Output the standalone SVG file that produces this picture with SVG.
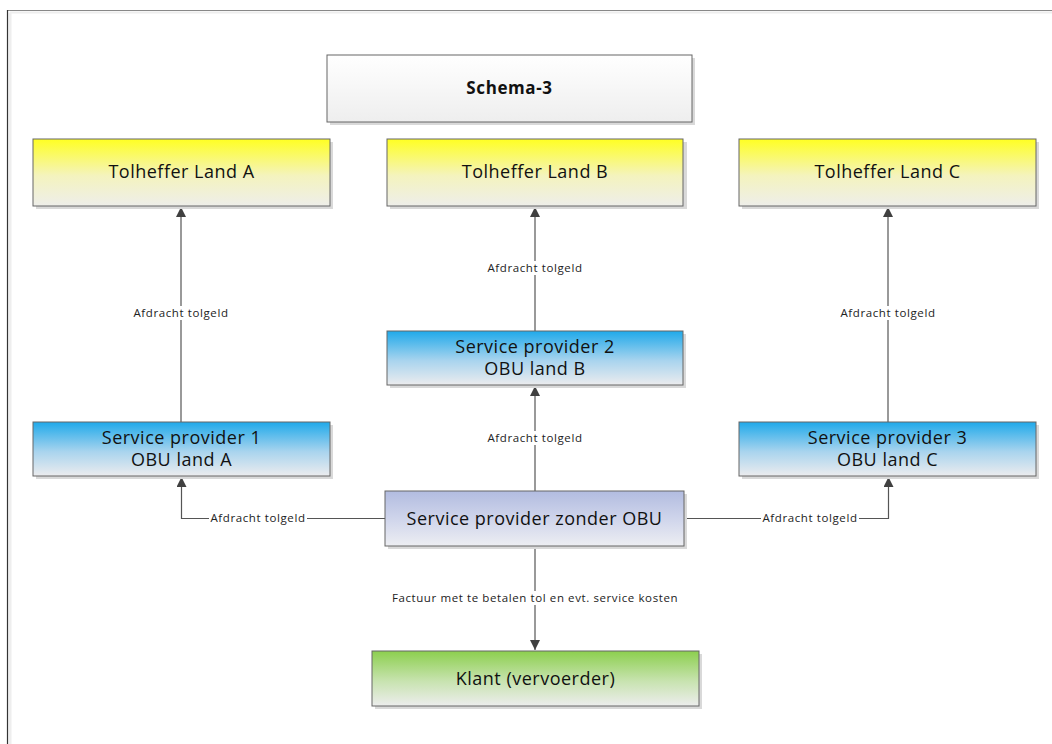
<svg xmlns="http://www.w3.org/2000/svg" width="1052" height="744" viewBox="0 0 1052 744">
<defs>
<linearGradient id="gY" x1="0" y1="0" x2="0" y2="1"><stop offset="0" stop-color="#FFFF22"/><stop offset="0.55" stop-color="#F4F3BE"/><stop offset="1" stop-color="#EEEEEA"/></linearGradient>
<linearGradient id="gB" x1="0" y1="0" x2="0" y2="1"><stop offset="0" stop-color="#1FA9EA"/><stop offset="0.55" stop-color="#A9D4EE"/><stop offset="1" stop-color="#ECECEE"/></linearGradient>
<linearGradient id="gP" x1="0" y1="0" x2="0" y2="1"><stop offset="0" stop-color="#B2BCE0"/><stop offset="0.55" stop-color="#D2D7EC"/><stop offset="1" stop-color="#EDEEF2"/></linearGradient>
<linearGradient id="gG" x1="0" y1="0" x2="0" y2="1"><stop offset="0" stop-color="#8CCF4E"/><stop offset="0.55" stop-color="#C8E3B0"/><stop offset="1" stop-color="#EDEDED"/></linearGradient>
<linearGradient id="gW" x1="0" y1="0" x2="0" y2="1"><stop offset="0" stop-color="#FFFFFF"/><stop offset="1" stop-color="#EEEEEE"/></linearGradient>
<marker id="arr" viewBox="0 0 10 10" refX="10" refY="5" markerWidth="10" markerHeight="10" markerUnits="userSpaceOnUse" orient="auto"><path d="M0,0 L10,5 L0,10 z" fill="#404040"/></marker>
</defs>
<style>
.box{stroke:#666;stroke-width:1}
.sh{fill:#D9D9D9}
.t{font-family:"Open Sans","Liberation Sans",sans-serif;font-size:18px;letter-spacing:0.5px;fill:#111;text-anchor:middle}
.b{font-weight:bold;font-size:17px;letter-spacing:0.6px}
.c{fill:none;stroke:#555;stroke-width:1.2}
.l{font-family:"Open Sans","Liberation Sans",sans-serif;font-size:11.5px;letter-spacing:0.6px;fill:#222;text-anchor:middle}
.lb{fill:#fff}
</style>
<rect x="0" y="0" width="1052" height="744" fill="#fff"/>
<g id="frame">
<line x1="10" y1="12.5" x2="1052" y2="12.5" stroke="#EEE" stroke-width="2"/>
<line x1="10" y1="12.5" x2="10" y2="744" stroke="#EEE" stroke-width="3"/>
<line x1="7" y1="10.5" x2="1052" y2="10.5" stroke="#888" stroke-width="1.2"/>
<line x1="7.5" y1="10" x2="7.5" y2="744" stroke="#333" stroke-width="1.2"/>
</g>
<g id="connectors">
<line class="c" x1="181" y1="422" x2="181" y2="207" marker-end="url(#arr)"/>
<line class="c" x1="535" y1="331" x2="535" y2="207" marker-end="url(#arr)"/>
<line class="c" x1="888" y1="422" x2="888" y2="207" marker-end="url(#arr)"/>
<line class="c" x1="535" y1="491" x2="535" y2="386" marker-end="url(#arr)"/>
<path class="c" d="M385,518.5 H181.5 V477" marker-end="url(#arr)"/>
<path class="c" d="M684,518.5 H888.5 V477" marker-end="url(#arr)"/>
<line class="c" x1="535" y1="546" x2="535" y2="650" marker-end="url(#arr)"/>
<rect class="lb" x="132" y="306" width="98" height="14"/>
<text class="l" x="181" y="317">Afdracht tolgeld</text>
<rect class="lb" x="486" y="261" width="98" height="14"/>
<text class="l" x="535" y="272">Afdracht tolgeld</text>
<rect class="lb" x="839" y="306" width="98" height="14"/>
<text class="l" x="888" y="317">Afdracht tolgeld</text>
<rect class="lb" x="486" y="431" width="98" height="14"/>
<text class="l" x="535" y="442">Afdracht tolgeld</text>
<rect class="lb" x="209" y="511" width="98" height="14"/>
<text class="l" x="258" y="522">Afdracht tolgeld</text>
<rect class="lb" x="761" y="511" width="98" height="14"/>
<text class="l" x="810" y="522">Afdracht tolgeld</text>
<rect class="lb" x="391" y="591" width="288" height="14"/>
<text class="l" x="535" y="602">Factuur met te betalen tol en evt. service kosten</text>
</g>
<g id="schema3">
<rect class="sh" x="330" y="58" width="365" height="67"/>
<rect class="box" x="327" y="55" width="365" height="67" fill="url(#gW)"/>
<text class="t b" x="509.5" y="94">Schema-3</text>
</g>
<g id="tolA">
<rect class="sh" x="36" y="142" width="297" height="67"/>
<rect class="box" x="33" y="139" width="297" height="67" fill="url(#gY)"/>
<text class="t" x="181.5" y="178">Tolheffer Land A</text>
</g>
<g id="tolB">
<rect class="sh" x="390" y="142" width="297" height="67"/>
<rect class="box" x="387" y="139" width="296" height="67" fill="url(#gY)"/>
<text class="t" x="535" y="178">Tolheffer Land B</text>
</g>
<g id="tolC">
<rect class="sh" x="742" y="142" width="297" height="67"/>
<rect class="box" x="739" y="139" width="297" height="67" fill="url(#gY)"/>
<text class="t" x="887.5" y="178">Tolheffer Land C</text>
</g>
<g id="sp2">
<rect class="sh" x="390" y="334" width="296" height="54"/>
<rect class="box" x="387" y="331" width="296" height="54" fill="url(#gB)"/>
<text class="t" x="535" y="353">Service provider 2</text>
<text class="t" x="535" y="375">OBU land B</text>
</g>
<g id="sp1">
<rect class="sh" x="36" y="425" width="297" height="54"/>
<rect class="box" x="33" y="422" width="297" height="54" fill="url(#gB)"/>
<text class="t" x="181.5" y="444">Service provider 1</text>
<text class="t" x="181.5" y="466">OBU land A</text>
</g>
<g id="sp3">
<rect class="sh" x="742" y="425" width="297" height="54"/>
<rect class="box" x="739" y="422" width="297" height="54" fill="url(#gB)"/>
<text class="t" x="887.5" y="444">Service provider 3</text>
<text class="t" x="887.5" y="466">OBU land C</text>
</g>
<g id="spzonder">
<rect class="sh" x="388" y="494" width="299" height="55"/>
<rect class="box" x="385" y="491" width="299" height="55" fill="url(#gP)"/>
<text class="t" x="534.5" y="525">Service provider zonder OBU</text>
</g>
<g id="klant">
<rect class="sh" x="375" y="654" width="327" height="55"/>
<rect class="box" x="372" y="651" width="327" height="55" fill="url(#gG)"/>
<text class="t" x="535.5" y="685">Klant (vervoerder)</text>
</g>
</svg>
